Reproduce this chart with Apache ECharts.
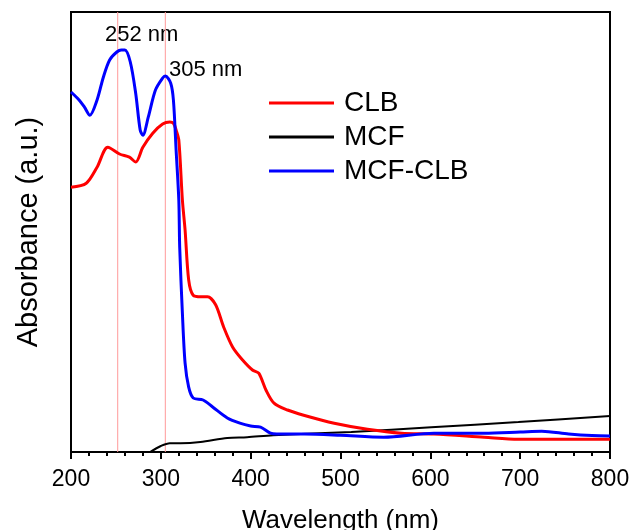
<!DOCTYPE html>
<html>
<head>
<meta charset="utf-8">
<script src="https://cdn.jsdelivr.net/npm/echarts@6/dist/echarts.min.js"></script>
<style>
  html, body { margin: 0; padding: 0; background: #ffffff; }
  #chart { width: 631px; height: 530px; }
</style>
</head>
<body>
<div id="chart"></div>
<script>
// wavelength (nm) / absorbance (a.u.) pairs
const clbX = [200, 217, 229, 241, 254, 265, 272, 280, 291, 302, 310, 314, 317, 320, 324, 327, 331, 336, 345, 352, 361, 370, 380, 391, 402, 409, 417, 426, 441, 459, 493, 530, 568, 604, 660, 698, 750, 800];
const clbY = [0.662, 0.672, 0.712, 0.762, 0.745, 0.737, 0.725, 0.762, 0.797, 0.82, 0.825, 0.822, 0.805, 0.78, 0.63, 0.555, 0.43, 0.392, 0.388, 0.388, 0.368, 0.312, 0.262, 0.23, 0.205, 0.197, 0.155, 0.122, 0.105, 0.092, 0.072, 0.057, 0.047, 0.045, 0.037, 0.032, 0.032, 0.032];

const mcfX = [288, 300, 310, 322, 344, 374, 396, 425, 512, 601, 698, 800];
const mcfY = [0.0, 0.015, 0.022, 0.022, 0.025, 0.035, 0.037, 0.042, 0.05, 0.062, 0.075, 0.09];

const mixX = [200, 209, 215, 221, 229, 236, 243, 251, 256, 260, 266, 272, 277, 280, 286, 294, 302, 305, 311, 314, 317, 320, 321, 324, 327, 331, 336, 347, 358, 374, 388, 400, 411, 422, 429, 460, 500, 548, 604, 660, 700, 724, 754, 780, 800];
const mixY = [0.9, 0.88, 0.862, 0.842, 0.88, 0.937, 0.98, 1.0, 1.005, 1.005, 0.975, 0.897, 0.805, 0.792, 0.837, 0.905, 0.935, 0.94, 0.922, 0.88, 0.755, 0.63, 0.512, 0.347, 0.222, 0.162, 0.135, 0.13, 0.112, 0.085, 0.072, 0.065, 0.062, 0.047, 0.045, 0.045, 0.042, 0.037, 0.047, 0.047, 0.05, 0.052, 0.045, 0.041, 0.04];

const peakLines = [252, 305];
const peakLabels = ["252 nm", "305 nm"];
const xTicks = { min: 200, max: 800, step: 100 };
const yRange = { min: 0, max: 1.1 };

const font = "'Liberation Sans', Arial, sans-serif";
const peakColor = "#ff9a9a";

function zip(xs, ys) {
  return xs.map((x, i) => [x, ys[i]]);
}

// thin guide lines at the two peaks, full plot height
const peakSeries = peakLines.map((v) => ({
  name: "peak-" + v,
  type: "line",
  data: [[v, yRange.min], [v, yRange.max]],
  symbol: "none",
  silent: true,
  color: peakColor,
  lineStyle: { color: peakColor, width: 1 },
  z: 1,
}));

const chart = echarts.init(document.getElementById("chart"));
chart.setOption({
  animation: false,
  backgroundColor: "#ffffff",
  grid: {
    left: 71,
    right: 21,
    top: 12,
    bottom: 78,
    containLabel: false,
    outerBoundsMode: "none",
    show: true,
    borderColor: "#000000",
    borderWidth: 2,
  },
  legend: {
    orient: "vertical",
    left: 264,
    top: 84,
    icon: "rect",
    itemWidth: 65,
    itemHeight: 3,
    itemGap: 6,
    textStyle: { fontFamily: font, fontSize: 28, lineHeight: 26, color: "#000000", padding: [0, 0, 0, 5] },
    data: ["CLB", "MCF", "MCF-CLB"],
  },
  xAxis: {
    type: "value",
    min: xTicks.min,
    max: xTicks.max,
    interval: xTicks.step,
    name: "Wavelength (nm)",
    nameLocation: "middle",
    nameGap: 56,
    nameTextStyle: { fontFamily: font, fontSize: 26, color: "#000000" },
    axisLine: { show: true, onZero: false, lineStyle: { color: "#000000", width: 2 } },
    axisTick: { show: true, inside: false, length: 7, lineStyle: { color: "#000000", width: 2 } },
    minorTick: { show: true, splitNumber: 5, length: 4, lineStyle: { color: "#000000", width: 2 } },
    axisLabel: { fontFamily: font, fontSize: 23, color: "#000000", margin: 16 },
    splitLine: { show: false },
    minorSplitLine: { show: false },
  },
  yAxis: {
    type: "value",
    min: yRange.min,
    max: yRange.max,
    name: "Absorbance (a.u.)",
    nameLocation: "middle",
    nameGap: 28,
    nameTextStyle: { fontFamily: font, fontSize: 29, color: "#000000" },
    axisLine: { show: true, lineStyle: { color: "#000000", width: 2 } },
    axisTick: { show: false },
    axisLabel: { show: false },
    splitLine: { show: false },
  },
  graphic: [
    { type: "text", left: 105, top: 24, style: { text: peakLabels[0], font: "22px " + font, fill: "#000000" } },
    { type: "text", left: 169, top: 59, style: { text: peakLabels[1], font: "22px " + font, fill: "#000000" } },
  ],
  series: peakSeries.concat([
    {
      name: "CLB",
      type: "line",
      data: zip(clbX, clbY),
      smooth: 0.3,
      symbol: "none",
      color: "#ff0000",
      lineStyle: { color: "#ff0000", width: 3 },
      z: 3,
    },
    {
      name: "MCF",
      type: "line",
      data: zip(mcfX, mcfY),
      smooth: 0.3,
      symbol: "none",
      color: "#000000",
      lineStyle: { color: "#000000", width: 2 },
      z: 2,
    },
    {
      name: "MCF-CLB",
      type: "line",
      data: zip(mixX, mixY),
      smooth: 0.3,
      symbol: "none",
      color: "#0000ff",
      lineStyle: { color: "#0000ff", width: 3 },
      z: 4,
    },
  ]),
});
</script>
</body>
</html>
